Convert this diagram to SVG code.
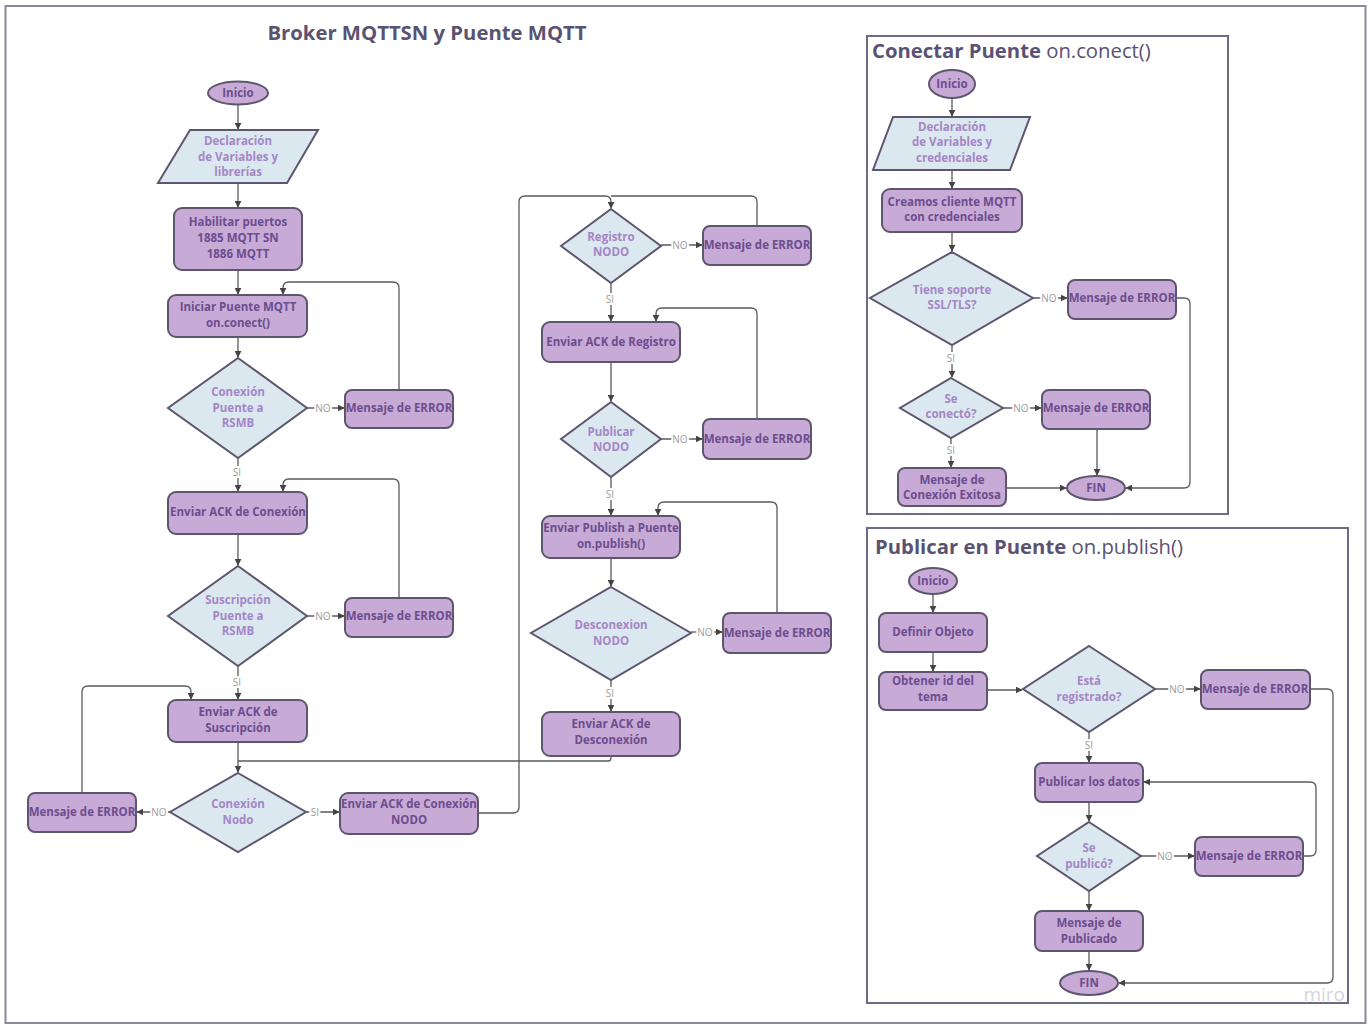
<svg xmlns="http://www.w3.org/2000/svg" width="1370" height="1024" viewBox="0 0 1370 1024">
<style>
.frame{fill:none;stroke:#8a8898;stroke-width:2}
.panel{fill:none;stroke:#6e6a82;stroke-width:2}
.box{fill:#c8aad6;stroke:#5e566f;stroke-width:2}
.dia{fill:#dce8f0;stroke:#5e566f;stroke-width:2}
.bt{font-family:"Open Sans","Liberation Sans",sans-serif;font-weight:700;font-size:11.5px;fill:#6c4d8e;text-anchor:middle}
.dt{font-family:"Open Sans","Liberation Sans",sans-serif;font-weight:700;font-size:11.5px;fill:#a486c6;text-anchor:middle}
.c{fill:none;stroke:#5a5a5a;stroke-width:1.3}
.ca{fill:none;stroke:#5a5a5a;stroke-width:1.3;marker-end:url(#ah)}
.lbl{font-family:"Open Sans","Liberation Sans",sans-serif;font-size:10px;fill:#9a9a9a;stroke:#fff;stroke-width:4;paint-order:stroke;text-anchor:middle}
.title{font-family:"Open Sans","Liberation Sans",sans-serif;font-weight:700;font-size:20.3px;fill:#5a5272}
.sub{font-weight:400}
</style>
<defs>
<marker id="ah" viewBox="0 0 10 10" refX="9" refY="5" markerWidth="7" markerHeight="7" markerUnits="userSpaceOnUse" orient="auto">
<path d="M0,0 L10,5 L0,10 z" fill="#444"/>
</marker>
</defs>
<rect x="0" y="0" width="1370" height="1024" fill="#fff"/>
<rect class="frame" x="5.5" y="6" width="1360" height="1017"/>
<text class="title" x="427" y="40" text-anchor="middle">Broker MQTTSN y Puente MQTT</text>
<rect class="panel" x="867" y="36" width="361" height="478"/>
<text class="title" x="872" y="58">Conectar Puente<tspan class="sub"> on.conect()</tspan></text>
<rect class="panel" x="867" y="528" width="481" height="475"/>
<text class="title" x="875" y="554">Publicar en Puente<tspan class="sub"> on.publish()</tspan></text>

<g id="connectors">
<path class="ca" d="M238,105 V129"/>
<path class="ca" d="M238,183 V207"/>
<path class="ca" d="M238,270 V294"/>
<path class="ca" d="M238,337 V357"/>
<path class="ca" d="M307,408 H344"/><text class="lbl" x="323" y="412">NO</text>
<path class="ca" d="M399,390 V288 Q399,282 393,282 H289 Q283,282 283,288 V294"/>
<path class="ca" d="M238,458 V491"/><text class="lbl" x="237" y="476">SI</text>
<path class="ca" d="M238,534 V565"/>
<path class="ca" d="M307,616 H344"/><text class="lbl" x="323" y="620">NO</text>
<path class="ca" d="M399,598 V485 Q399,479 393,479 H289 Q283,479 283,485 V491"/>
<path class="ca" d="M238,666 V699"/><text class="lbl" x="237" y="686">SI</text>
<path class="ca" d="M238,742 V772"/>
<path class="c" d="M611,756 V758 Q611,761 608,761 H238"/>
<path class="ca" d="M170,812 H137"/><text class="lbl" x="159" y="816">NO</text>
<path class="ca" d="M82,793 V692 Q82,686 88,686 H185 Q191,686 191,692 V699"/>
<path class="ca" d="M306,812 H339"/><text class="lbl" x="315" y="816">SI</text>
<path class="ca" d="M478,813 H513 Q519,813 519,807 V202 Q519,196 525,196 H605 Q611,196 611,202 V208"/>
<path class="c" d="M757,226 V202 Q757,196 751,196 H611"/>
<path class="ca" d="M661,245 H702"/><text class="lbl" x="680" y="249">NO</text>
<path class="ca" d="M611,283 V321"/><text class="lbl" x="610" y="303">SI</text>
<path class="ca" d="M757,419 V314 Q757,308 751,308 H662 Q656,308 656,314 V321"/>
<path class="ca" d="M611,362 V401"/>
<path class="ca" d="M661,439 H702"/><text class="lbl" x="680" y="443">NO</text>
<path class="ca" d="M611,477 V515"/><text class="lbl" x="610" y="498">SI</text>
<path class="ca" d="M777,613 V508 Q777,502 771,502 H664 Q658,502 658,508 V515"/>
<path class="ca" d="M611,558 V586"/>
<path class="ca" d="M691,632 H722"/><text class="lbl" x="705" y="636">NO</text>
<path class="ca" d="M611,680 V711"/><text class="lbl" x="610" y="697">SI</text>

<path class="ca" d="M952,98 V116"/>
<path class="ca" d="M952,170 V188"/>
<path class="ca" d="M952,232 V251"/>
<path class="ca" d="M1033,298 H1067"/><text class="lbl" x="1049" y="302">NO</text>
<path class="ca" d="M1176,298 H1184 Q1190,298 1190,304 V482 Q1190,488 1184,488 H1126"/>
<path class="ca" d="M952,345 V377"/><text class="lbl" x="951" y="362">SI</text>
<path class="ca" d="M1003,408 H1041"/><text class="lbl" x="1021" y="412">NO</text>
<path class="ca" d="M1097,429 V475"/>
<path class="ca" d="M951,438 V467"/><text class="lbl" x="951" y="454">SI</text>
<path class="ca" d="M1006,488 H1066"/>

<path class="ca" d="M933,594 V612"/>
<path class="ca" d="M933,652 V671"/>
<path class="ca" d="M987,690 H1022"/>
<path class="ca" d="M1155,689 H1200"/><text class="lbl" x="1177" y="693">NO</text>
<path class="ca" d="M1310,689 H1327 Q1333,689 1333,695 V977 Q1333,983 1327,983 H1119"/>
<path class="ca" d="M1089,732 V762"/><text class="lbl" x="1089" y="749">SI</text>
<path class="ca" d="M1089,802 V821"/>
<path class="ca" d="M1141,856 H1194"/><text class="lbl" x="1165" y="860">NO</text>
<path class="ca" d="M1303,856 H1310 Q1316,856 1316,850 V788 Q1316,782 1310,782 H1144"/>
<path class="ca" d="M1089,891 V910"/>
<path class="ca" d="M1089,951 V970"/>
</g>

<g id="n-inicio"><ellipse class="box" cx="238" cy="93" rx="30" ry="11.5"/><text class="bt" x="238" y="97">Inicio</text></g>
<g id="n-decl"><polygon class="dia" points="190,130 318,130 287,183 158,183"/><text class="dt" x="238" y="145">Declaración</text><text class="dt" x="238" y="161">de Variables y</text><text class="dt" x="238" y="176">librerías</text></g>
<g id="n-puertos"><rect class="box" x="174" y="208" width="128" height="62" rx="8"/><text class="bt" x="238" y="226">Habilitar puertos</text><text class="bt" x="238" y="242">1885 MQTT SN</text><text class="bt" x="238" y="258">1886 MQTT</text></g>
<g id="n-iniciar"><rect class="box" x="168" y="295" width="139" height="42" rx="8"/><text class="bt" x="238" y="311">Iniciar Puente MQTT</text><text class="bt" x="238" y="327">on.conect()</text></g>
<g id="n-conpuente"><polygon class="dia" points="238,358 307,408 238,458 168,408"/><text class="dt" x="238" y="396">Conexión</text><text class="dt" x="238" y="412">Puente a</text><text class="dt" x="238" y="427">RSMB</text></g>
<g id="n-err1"><rect class="box" x="345" y="390" width="108" height="38" rx="7"/><text class="bt" x="399" y="412">Mensaje de ERROR</text></g>
<g id="n-ackcon"><rect class="box" x="168" y="492" width="139" height="42" rx="8"/><text class="bt" x="238" y="516">Enviar ACK de Conexión</text></g>
<g id="n-suscr"><polygon class="dia" points="238,566 307,616 238,666 168,616"/><text class="dt" x="238" y="604">Suscripción</text><text class="dt" x="238" y="620">Puente a</text><text class="dt" x="238" y="635">RSMB</text></g>
<g id="n-err2"><rect class="box" x="345" y="598" width="108" height="39" rx="7"/><text class="bt" x="399" y="620">Mensaje de ERROR</text></g>
<g id="n-acksus"><rect class="box" x="168" y="700" width="139" height="42" rx="8"/><text class="bt" x="238" y="716">Enviar ACK de</text><text class="bt" x="238" y="732">Suscripción</text></g>
<g id="n-connodo"><polygon class="dia" points="238,773 306,812 238,852 170,812"/><text class="dt" x="238" y="808">Conexión</text><text class="dt" x="238" y="824">Nodo</text></g>
<g id="n-err3"><rect class="box" x="28" y="793" width="108" height="39" rx="7"/><text class="bt" x="82" y="816">Mensaje de ERROR</text></g>
<g id="n-ackconnodo"><rect class="box" x="340" y="793" width="138" height="41" rx="8"/><text class="bt" x="409" y="808">Enviar ACK de Conexión</text><text class="bt" x="409" y="824">NODO</text></g>
<g id="n-registro"><polygon class="dia" points="611,209 661,246 611,283 561,246"/><text class="dt" x="611" y="241">Registro</text><text class="dt" x="611" y="256">NODO</text></g>
<g id="n-err4"><rect class="box" x="703" y="226" width="108" height="39" rx="7"/><text class="bt" x="757" y="249">Mensaje de ERROR</text></g>
<g id="n-ackreg"><rect class="box" x="542" y="322" width="138" height="40" rx="8"/><text class="bt" x="611" y="346">Enviar ACK de Registro</text></g>
<g id="n-publicar"><polygon class="dia" points="611,402 661,439 611,477 561,439"/><text class="dt" x="611" y="436">Publicar</text><text class="dt" x="611" y="451">NODO</text></g>
<g id="n-err5"><rect class="box" x="703" y="419" width="108" height="40" rx="7"/><text class="bt" x="757" y="443">Mensaje de ERROR</text></g>
<g id="n-publish"><rect class="box" x="542" y="516" width="138" height="42" rx="8"/><text class="bt" x="611" y="532">Enviar Publish a Puente</text><text class="bt" x="611" y="548">on.publish()</text></g>
<g id="n-desc"><polygon class="dia" points="611,587 691,633 611,680 531,633"/><text class="dt" x="611" y="629">Desconexion</text><text class="dt" x="611" y="645">NODO</text></g>
<g id="n-err6"><rect class="box" x="723" y="613" width="108" height="40" rx="7"/><text class="bt" x="777" y="637">Mensaje de ERROR</text></g>
<g id="n-ackdesc"><rect class="box" x="542" y="712" width="138" height="44" rx="8"/><text class="bt" x="611" y="728">Enviar ACK de</text><text class="bt" x="611" y="744">Desconexión</text></g>

<g id="p1-inicio"><ellipse class="box" cx="952" cy="84" rx="23" ry="14"/><text class="bt" x="952" y="88">Inicio</text></g>
<g id="p1-decl"><polygon class="dia" points="893,117 1030,117 1010,170 873,170"/><text class="dt" x="952" y="131">Declaración</text><text class="dt" x="952" y="146">de Variables y</text><text class="dt" x="952" y="162">credenciales</text></g>
<g id="p1-cliente"><rect class="box" x="882" y="189" width="140" height="43" rx="8"/><text class="bt" x="952" y="206">Creamos cliente MQTT</text><text class="bt" x="952" y="221">con credenciales</text></g>
<g id="p1-ssl"><polygon class="dia" points="952,252 1033,298 952,345 870,298"/><text class="dt" x="952" y="294">Tiene soporte</text><text class="dt" x="952" y="309">SSL/TLS?</text></g>
<g id="p1-err1"><rect class="box" x="1068" y="280" width="108" height="39" rx="7"/><text class="bt" x="1122" y="302">Mensaje de ERROR</text></g>
<g id="p1-conecto"><polygon class="dia" points="951,378 1003,408 951,438 900,408"/><text class="dt" x="951" y="403">Se</text><text class="dt" x="951" y="418">conectó?</text></g>
<g id="p1-err2"><rect class="box" x="1042" y="390" width="108" height="39" rx="7"/><text class="bt" x="1096" y="412">Mensaje de ERROR</text></g>
<g id="p1-exito"><rect class="box" x="898" y="468" width="108" height="38" rx="7"/><text class="bt" x="952" y="484">Mensaje de</text><text class="bt" x="952" y="499">Conexión Exitosa</text></g>
<g id="p1-fin"><ellipse class="box" cx="1096" cy="488" rx="29" ry="12"/><text class="bt" x="1096" y="492">FIN</text></g>

<g id="p2-inicio"><ellipse class="box" cx="933" cy="581" rx="24" ry="13"/><text class="bt" x="933" y="585">Inicio</text></g>
<g id="p2-definir"><rect class="box" x="879" y="613" width="108" height="39" rx="7"/><text class="bt" x="933" y="636">Definir Objeto</text></g>
<g id="p2-obtener"><rect class="box" x="879" y="672" width="108" height="38" rx="7"/><text class="bt" x="933" y="685">Obtener id del</text><text class="bt" x="933" y="701">tema</text></g>
<g id="p2-registrado"><polygon class="dia" points="1089,646 1155,689 1089,732 1023,689"/><text class="dt" x="1089" y="685">Está</text><text class="dt" x="1089" y="701">registrado?</text></g>
<g id="p2-err1"><rect class="box" x="1201" y="670" width="109" height="39" rx="7"/><text class="bt" x="1255" y="693">Mensaje de ERROR</text></g>
<g id="p2-datos"><rect class="box" x="1035" y="763" width="108" height="39" rx="7"/><text class="bt" x="1089" y="786">Publicar los datos</text></g>
<g id="p2-publico"><polygon class="dia" points="1089,822 1141,856 1089,891 1037,856"/><text class="dt" x="1089" y="852">Se</text><text class="dt" x="1089" y="868">publicó?</text></g>
<g id="p2-err2"><rect class="box" x="1195" y="837" width="108" height="39" rx="7"/><text class="bt" x="1249" y="860">Mensaje de ERROR</text></g>
<g id="p2-msgpub"><rect class="box" x="1035" y="911" width="108" height="40" rx="7"/><text class="bt" x="1089" y="927">Mensaje de</text><text class="bt" x="1089" y="943">Publicado</text></g>
<g id="p2-fin"><ellipse class="box" cx="1089" cy="983" rx="29" ry="12"/><text class="bt" x="1089" y="987">FIN</text></g>

<text x="1345" y="1001" text-anchor="end" font-family="Open Sans, Liberation Sans, sans-serif" font-size="19" fill="#d4d4dc">miro</text>
</svg>
